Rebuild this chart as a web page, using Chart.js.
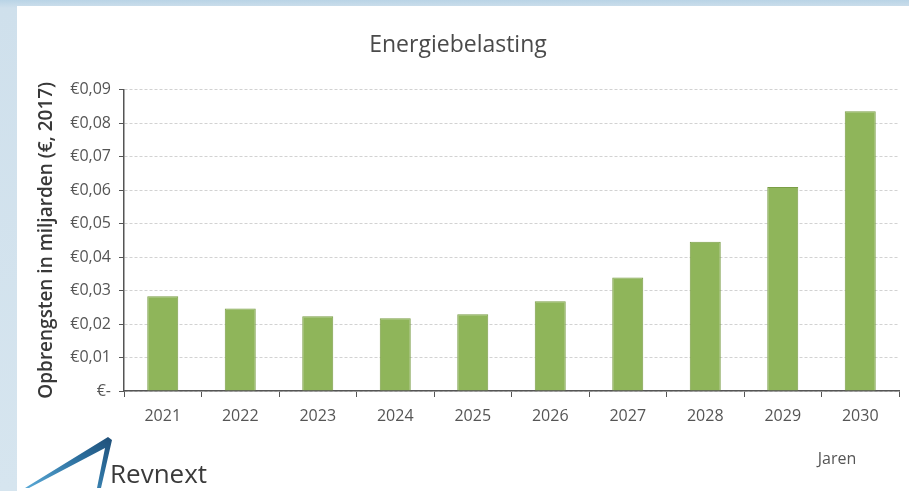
<!DOCTYPE html>
<html>
<head>
<meta charset="utf-8">
<script src="https://cdn.jsdelivr.net/npm/chart.js@4/dist/chart.umd.min.js"></script>
<style>
    body { margin: 0; width: 909px; height: 491px; overflow: hidden; background: linear-gradient(180deg, #b9d4e6 0px, #cfe0ec 8px, #d6e5ef 100%); position: relative; }
    #panel { position: absolute; left: 17px; top: 6px; width: 892px; height: 485px; background: #fff; }
    #jaren { position: absolute; left: 800px; top: 441px; width: 40px; text-align: center; font: 16px "Liberation Sans Narrow", "Open Sans", sans-serif; color: #555; }
    #logo { position: absolute; left: 0; top: 0; }
    #brand { position: absolute; left: 93px; top: 449px; font: 26px "Open Sans", sans-serif; color: #3a3a3a; }
</style>
</head>
<body>
<div id="panel">
    <canvas id="myChart" width="892" height="485"></canvas>
    <div id="jaren">Jaren</div>
    <svg id="logo" width="130" height="485">
        <defs>
            <linearGradient id="sw" x1="0" y1="1" x2="1" y2="0">
                <stop offset="0" stop-color="#5aa9d6"/>
                <stop offset="0.6" stop-color="#2c6f9e"/>
                <stop offset="1" stop-color="#1f4f78"/>
            </linearGradient>
        </defs>
        <polygon points="8,482 91,431 95,434 84,482 80,482 88,442 12,482" fill="url(#sw)"/>
    </svg>
    <div id="brand">Revnext</div>
</div>
<script>
    const years = ['2021', '2022', '2023', '2024', '2025', '2026', '2027', '2028', '2029', '2030'];
    const revenue = [0.0283, 0.0246, 0.0223, 0.0217, 0.0229, 0.0268, 0.0339, 0.0446, 0.0609, 0.0835];
    const yTickLabels = ['€-', '€0,01', '€0,02', '€0,03', '€0,04', '€0,05', '€0,06', '€0,07', '€0,08', '€0,09'];

    const narrow = '"Liberation Sans Narrow", "Open Sans", sans-serif';

    const ctx = document.getElementById('myChart').getContext('2d');
    const myChart = new Chart(ctx, {
        type: 'bar',
        data: {
            labels: years,
            datasets: [{
                label: 'Energiebelasting',
                data: revenue,
                backgroundColor: '#8fb55a',
                borderColor: '#7a9e46',
                borderWidth: 1,
                categoryPercentage: 1,
                barPercentage: 0.4
            }]
        },
        options: {
            responsive: false,
            animation: false,
            layout: { padding: { left: 0, right: 10, top: 0, bottom: 0 } },
            plugins: {
                legend: { display: false },
                tooltip: { enabled: false },
                title: {
                    display: true,
                    text: 'Energiebelasting',
                    color: '#4a4a4a',
                    font: { family: narrow, size: 23, weight: 'normal' },
                    padding: { top: 26, bottom: 30 }
                }
            },
            scales: {
                x: {
                    grid: { drawOnChartArea: false, offset: true, tickLength: 6, tickColor: '#555' },
                    border: { color: '#555', width: 1.5 },
                    ticks: { color: '#555', padding: 10, font: { family: narrow, size: 16 } },
                    afterFit: (scale) => { scale.height = 100; }
                },
                y: {
                    min: 0,
                    max: 0.09,
                    ticks: {
                        stepSize: 0.01,
                        color: '#555',
                        padding: 8,
                        font: { family: narrow, size: 16 },
                        callback: (value, index) => yTickLabels[index]
                    },
                    grid: { color: '#d2d2d2', tickLength: 5, tickColor: '#555' },
                    border: { color: '#555', width: 1.5, dash: [3, 2] },
                    title: {
                        display: true,
                        text: 'Opbrengsten in miljarden (€, 2017)',
                        color: '#383838',
                        font: { family: '"Open Sans", sans-serif', size: 19, weight: '600' },
                        padding: { top: 18, bottom: 0 }
                    },
                    afterFit: (scale) => { scale.width = 107; }
                }
            }
        }
    });
</script>
</body>
</html>
